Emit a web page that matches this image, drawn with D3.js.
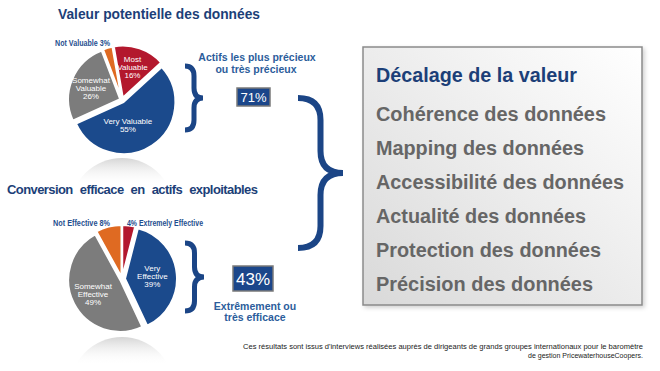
<!DOCTYPE html>
<html>
<head>
<meta charset="utf-8">
<script src="https://cdn.jsdelivr.net/npm/d3@7"></script>
<style>
  body { margin: 0; background: #fff; }
  svg { display: block; font-family: "Liberation Sans", Arial, sans-serif; }
</style>
</head>
<body>
<div id="chart"></div>
<script>
// data
const valueLabels = ["Most|Valuable|16%", "Very Valuable|55%", "Somewhat|Valuable|26%", "Not Valuable 3%"];
const valueShares = [16, 55, 26, 3];
const convLabels = ["4% Extremely Effective", "Very|Effective|39%", "Somewhat|Effective|49%", "Not Effective 8%"];
const convShares = [4, 39, 49, 8];
const sliceColors = ["#b3182d", "#1b4a8c", "#7c7c7c", "#df6a22"];
const gapFactors = ["Cohérence des données", "Mapping des données", "Accessibilité des données",
  "Actualité des données", "Protection des données", "Précision des données"];
const totals = ["71%", "43%"];

const W = 660, H = 371;
const blue = "#1c3f78";

const svg = d3.select("#chart").append("svg")
  .attr("width", W).attr("height", H);

const defs = svg.append("defs");

// box gradient
const bg = defs.append("linearGradient").attr("id", "boxGrad")
  .attr("x1", "0%").attr("y1", "100%").attr("x2", "100%").attr("y2", "0%");
bg.append("stop").attr("offset", "0%").attr("stop-color", "#d9d9d9");
bg.append("stop").attr("offset", "100%").attr("stop-color", "#ffffff");

const shadow = defs.append("filter").attr("id", "shadow")
  .attr("x", "-5%").attr("y", "-5%").attr("width", "115%").attr("height", "115%");
shadow.append("feDropShadow").attr("dx", 2).attr("dy", 2).attr("stdDeviation", 2)
  .attr("flood-color", "#000").attr("flood-opacity", 0.18);

// titles
svg.append("text").attr("x", 58).attr("y", 19)
  .attr("textLength", 202).attr("lengthAdjust", "spacingAndGlyphs")
  .style("font-size", "15px").style("font-weight", "bold").style("fill", blue)
  .text("Valeur potentielle des données");

svg.append("text").attr("x", 7).attr("y", 194)
  .attr("textLength", 251).attr("lengthAdjust", "spacing")
  .style("font-size", "13px").style("font-weight", "bold").style("fill", blue)
  .style("word-spacing", "4px")
  .text("Conversion efficace en actifs exploitables");

function drawPie(cx, cy, r, values, labels, startDeg, outside, gaps, nudges) {
  // reflection below the pie
  const gid = "refl" + cy;
  const rg = defs.append("linearGradient").attr("id", gid)
    .attr("gradientUnits", "userSpaceOnUse")
    .attr("x1", 0).attr("y1", cy + r + 4).attr("x2", 0).attr("y2", cy + r + 34);
  rg.append("stop").attr("offset", "0%").attr("stop-color", "#cfcfcf");
  rg.append("stop").attr("offset", "100%").attr("stop-color", "#fff").attr("stop-opacity", 0);
  svg.append("circle").attr("cx", cx).attr("cy", cy + 2 * r + 6).attr("r", r)
    .attr("fill", `url(#${gid})`);

  const start = startDeg * Math.PI / 180;
  const arcs = d3.pie().sort(null).value(d => d)
    .startAngle(start).endAngle(start + 2 * Math.PI)(values);
  const arc = d3.arc().innerRadius(0).outerRadius(r);
  const g = svg.append("g").attr("transform", `translate(${cx},${cy})`);

  g.selectAll("path").data(arcs).enter().append("path")
    .attr("d", arc)
    .attr("fill", (d, i) => sliceColors[i])
    .attr("stroke", "#fff").attr("stroke-width", 2)
    .attr("transform", (d, i) => {
      const a = (d.startAngle + d.endAngle) / 2;
      return `translate(${Math.sin(a) * gaps[i]},${-Math.cos(a) * gaps[i]})`;
    });

  const labelArc = d3.arc().innerRadius(0).outerRadius(r * 1.25);
  arcs.forEach((d, i) => {
    if (outside.includes(i)) return;
    const [x, y] = labelArc.centroid(d);
    const lines = labels[i].split("|");
    const t = g.append("text")
      .attr("text-anchor", "middle")
      .style("font-family", "'Liberation Sans Narrow', 'Liberation Sans', sans-serif")
      .style("font-size", "8px").style("fill", "#fff");
    lines.forEach((ln, k) => {
      t.append("tspan").attr("x", x + nudges[i][0])
        .attr("y", y + nudges[i][1] + (k - (lines.length - 1) / 2) * 8 + 3)
        .text(ln);
    });
  });
}

drawPie(122, 100, 52, valueShares, valueLabels, -10, [3], [2.5, 2.5, 2, 2], [[0, -2], [-12, -2], [-1, 0], [0, 0]]);
drawPie(122, 279, 52, convShares, convLabels, 0, [0, 3], [2, 3, 2, 2], [[0, 0], [-2, 0], [0, 0], [0, 0]]);

// outside labels
function outLabel(x, y, w, str) {
  svg.append("text").attr("x", x).attr("y", y)
    .attr("textLength", w).attr("lengthAdjust", "spacingAndGlyphs")
    .style("font-family", "'Liberation Sans Narrow', 'Liberation Sans', sans-serif")
    .style("font-size", "9px").style("font-weight", "bold").style("fill", "#1f4f8f")
    .text(str);
}
outLabel(55, 46, 55, valueLabels[3]);
outLabel(53, 226, 57, convLabels[3]);
outLabel(127, 226, 76, convLabels[0]);

// braces
function brace(x, y0, y1, w, q) {
  const ym = (y0 + y1) / 2, xm = x + w / 2;
  return `M${x},${y0} Q${xm},${y0} ${xm},${y0 + q} L${xm},${ym - q} Q${xm},${ym} ${x + w},${ym}` +
    ` Q${xm},${ym} ${xm},${ym + q} L${xm},${y1 - q} Q${xm},${y1} ${x},${y1}`;
}
const braceColor = "#1b4586";
svg.append("path").attr("d", brace(185, 66, 130, 18, 10))
  .attr("fill", "none").attr("stroke", braceColor).attr("stroke-width", 5);
svg.append("path").attr("d", brace(185, 243, 311, 19, 10))
  .attr("fill", "none").attr("stroke", braceColor).attr("stroke-width", 5);
svg.append("path").attr("d", brace(298, 98, 248, 45, 22))
  .attr("fill", "none").attr("stroke", braceColor).attr("stroke-width", 6);

// captions next to braces
function caption(x, y, str) {
  svg.append("text").attr("x", x).attr("y", y).attr("text-anchor", "middle")
    .style("font-size", "10.5px").style("font-weight", "bold").style("fill", "#2c5d9b")
    .text(str);
}
caption(257, 61, "Actifs  les plus précieux");
caption(256, 73, "ou très précieux");
caption(255, 310, "Extrêmement ou");
caption(255, 321, "très efficace");

// total boxes
function totalBox(x, y, w, h, fs, str) {
  svg.append("rect").attr("x", x).attr("y", y).attr("width", w).attr("height", h)
    .attr("fill", "#1b468a").attr("stroke", "#7a7a7a").attr("stroke-width", 1.5);
  svg.append("text").attr("x", x + w / 2).attr("y", y + h / 2 + fs * 0.36)
    .attr("text-anchor", "middle")
    .style("font-size", fs + "px").style("fill", "#fff").text(str);
}
totalBox(237, 88, 33, 18, 13, totals[0]);
totalBox(233, 266, 40, 25, 17, totals[1]);

// value gap box
svg.append("rect").attr("x", 363).attr("y", 47).attr("width", 279).attr("height", 258)
  .attr("fill", "url(#boxGrad)").attr("stroke", "#8a8a8a").attr("stroke-width", 1.5)
  .attr("filter", "url(#shadow)");
svg.append("text").attr("x", 376).attr("y", 82)
  .attr("textLength", 201).attr("lengthAdjust", "spacingAndGlyphs")
  .style("font-size", "21px").style("font-weight", "bold").style("fill", blue)
  .text("Décalage de la valeur");

const itemWidths = [230, 208, 248, 210, 225, 217];
const yItem = d3.scalePoint().domain(gapFactors).range([121, 291]);
svg.selectAll(".item").data(gapFactors).enter().append("text")
  .attr("class", "item")
  .attr("x", 376).attr("y", d => yItem(d))
  .attr("textLength", (d, i) => itemWidths[i]).attr("lengthAdjust", "spacingAndGlyphs")
  .style("font-size", "20px").style("font-weight", "bold").style("fill", "#666")
  .text(d => d);

// footnote
const foot = svg.append("g")
  .style("font-family", "'Liberation Sans Narrow', 'Liberation Sans', sans-serif")
  .style("font-size", "7.5px").style("fill", "#222");
foot.append("text").attr("x", 643).attr("y", 349).attr("text-anchor", "end")
  .attr("textLength", 400).attr("lengthAdjust", "spacingAndGlyphs")
  .text("Ces résultats sont issus d'interviews réalisées auprès de dirigeants de grands groupes internationaux pour le baromètre");
foot.append("text").attr("x", 643).attr("y", 358).attr("text-anchor", "end")
  .attr("textLength", 115).attr("lengthAdjust", "spacingAndGlyphs")
  .text("de gestion PricewaterhouseCoopers.");
</script>
</body>
</html>
